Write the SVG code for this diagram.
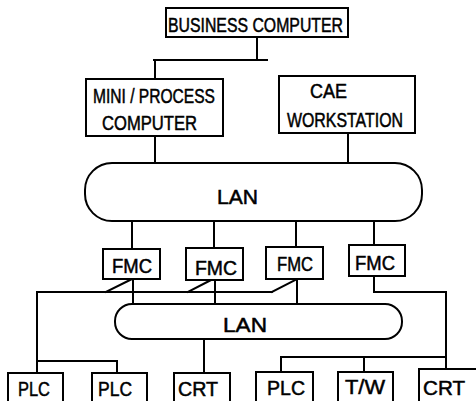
<svg xmlns="http://www.w3.org/2000/svg" width="476" height="401" viewBox="0 0 476 401">
<style>
.box{fill:#fff;stroke:#000;stroke-width:2}
.lan{fill:#fff;stroke:#000;stroke-width:2}
.ln{fill:none;stroke:#000;stroke-width:2;stroke-linecap:square}
text{font-family:"Liberation Sans",Arial,sans-serif;fill:#000;stroke:#000;stroke-width:0.5;font-size:20px}
</style>
<rect width="476" height="401" fill="#fff"/>
<g id="connectors">
<path class="ln" d="M257,37 V60 M154,60 H267 M155,60 V79"/>
<path class="ln" d="M155,136 V163 M348,133 V163"/>
<path class="ln" d="M132,221 V249 M214,221 V248 M296,221 V247 M374,221 V245"/>
<path class="ln" d="M37,292 H272 M106,292 L132,279 M188,292 L213,279 M272,292 L297,279"/>
<path class="ln" d="M133,279 V304 M215,280 V304 M297,279 V304"/>
<path class="ln" d="M37,292 V373 M37,361 H117 V373"/>
<path class="ln" d="M204,339 V373"/>
<path class="ln" d="M374,276 V292 H446 V369 M281,357 H446 M281,357 V372 M364,357 V372"/>
</g>
<g id="business"><rect class="box" x="166" y="8" width="182" height="29"/><text x="168" y="32" textLength="175" lengthAdjust="spacingAndGlyphs">BUSINESS COMPUTER</text></g>
<g id="mini"><rect class="box" x="86" y="79" width="137" height="57"/><text x="93" y="103" textLength="122" lengthAdjust="spacingAndGlyphs">MINI / PROCESS</text><text x="102" y="130" textLength="95" lengthAdjust="spacingAndGlyphs">COMPUTER</text></g>
<g id="cae"><rect class="box" x="279" y="76" width="136" height="57"/><text x="310" y="98" textLength="37" lengthAdjust="spacingAndGlyphs">CAE</text><text x="287" y="127" textLength="116" lengthAdjust="spacingAndGlyphs">WORKSTATION</text></g>
<g id="lan1"><rect class="lan" x="85" y="163" width="337" height="58" rx="27" ry="27"/><text x="217" y="204" textLength="41" lengthAdjust="spacingAndGlyphs" font-size="22">LAN</text></g>
<g id="fmc1"><rect class="box" x="103" y="249" width="57" height="30"/><text x="112" y="273" textLength="40" lengthAdjust="spacingAndGlyphs">FMC</text></g>
<g id="fmc2"><rect class="box" x="186" y="248" width="57" height="32"/><text x="195" y="275" textLength="42" lengthAdjust="spacingAndGlyphs">FMC</text></g>
<g id="fmc3"><rect class="box" x="266" y="247" width="57" height="32"/><text x="277" y="271" textLength="36" lengthAdjust="spacingAndGlyphs">FMC</text></g>
<g id="fmc4"><rect class="box" x="349" y="245" width="56" height="31"/><text x="355" y="270" textLength="40" lengthAdjust="spacingAndGlyphs">FMC</text></g>
<g id="lan2"><rect class="lan" x="115" y="304" width="287" height="35" rx="17" ry="17"/><text x="223" y="332" textLength="44" lengthAdjust="spacingAndGlyphs" font-size="21">LAN</text></g>
<g id="plc1"><rect class="box" x="8" y="373" width="55" height="30"/><text x="18" y="396" textLength="32" lengthAdjust="spacingAndGlyphs" font-size="22">PLC</text></g>
<g id="plc2"><rect class="box" x="92" y="373" width="55" height="30"/><text x="98" y="396" textLength="34" lengthAdjust="spacingAndGlyphs" font-size="22">PLC</text></g>
<g id="crt1"><rect class="box" x="174" y="373" width="56" height="30"/><text x="178" y="396" textLength="40" lengthAdjust="spacingAndGlyphs" font-size="22">CRT</text></g>
<g id="plc3"><rect class="box" x="256" y="372" width="57" height="31"/><text x="267" y="395" textLength="38" lengthAdjust="spacingAndGlyphs" font-size="22">PLC</text></g>
<g id="tw"><rect class="box" x="338" y="372" width="55" height="31"/><text x="345" y="394" textLength="40" lengthAdjust="spacingAndGlyphs" font-size="22">T/W</text></g>
<g id="crt2"><rect class="box" x="419" y="369" width="60" height="34"/><text x="423" y="395" textLength="42" lengthAdjust="spacingAndGlyphs" font-size="22">CRT</text></g>
</svg>
